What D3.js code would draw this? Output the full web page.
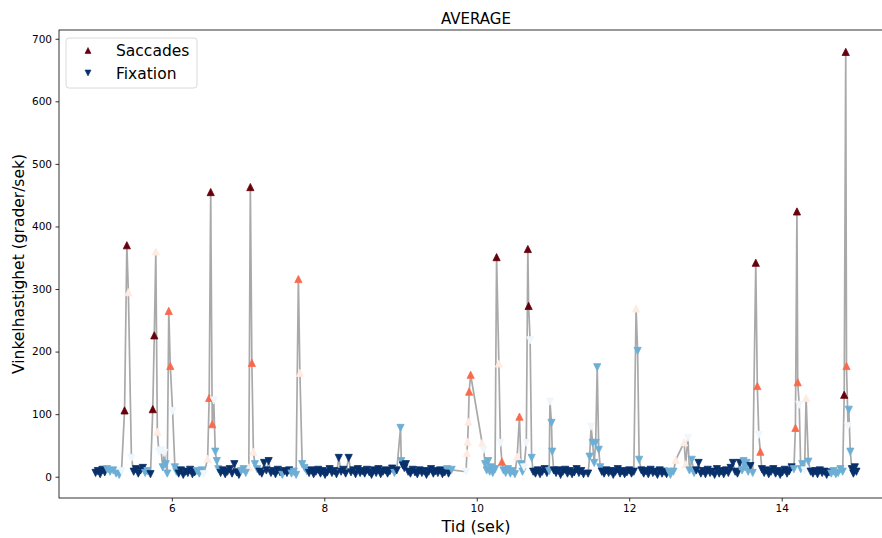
<!DOCTYPE html>
<html>
<head>
<meta charset="utf-8">
<script src="https://cdn.jsdelivr.net/npm/d3@7/dist/d3.min.js"></script>
<style>
  html, body { margin: 0; padding: 0; background: #fff; }
  svg { display: block; font-family: "DejaVu Sans", sans-serif; }
</style>
</head>
<body>
<svg id="chart" width="882" height="538"></svg>
<script>
// Saccade samples: time (s), angular speed (deg/s), colour tone (0 light, 1 mid, 2 dark)
const sacTime  = [5.38, 5.41, 5.43, 5.75, 5.77, 5.79, 5.81, 5.96, 5.98,
                  6.47, 6.49, 6.51, 6.53, 7.01, 7.03, 7.05, 7.07, 7.66, 7.68,
                  9.87, 9.88, 9.89, 9.90, 9.92, 10.07, 10.26, 10.29, 10.33,
                  10.53, 10.56, 10.67, 10.68, 12.09, 12.61, 12.72, 12.74,
                  13.66, 13.68, 13.72, 14.18, 14.20, 14.21, 14.32, 14.82, 14.84, 14.85];
const sacSpeed = [106, 370, 295, 108, 226, 360, 72, 265, 177,
                  29, 126, 455, 84, 15, 463, 182, 40, 316, 166,
                  38, 56, 88, 136, 163, 54, 351, 181, 24,
                  32, 96, 364, 273, 269, 27, 55, 20,
                  342, 145, 40, 78, 424, 151, 126, 131, 679, 177];
const sacTone  = [2, 2, 0, 2, 2, 0, 0, 1, 1,
                  0, 1, 2, 1, 0, 2, 1, 0, 1, 0,
                  0, 0, 0, 1, 1, 0, 2, 0, 1,
                  0, 1, 2, 2, 0, 0, 0, 0,
                  2, 1, 1, 1, 2, 1, 0, 2, 2, 1];

// Fixation samples: time (s), angular speed (deg/s), colour tone
const fixTime = [
  5.00, 5.03, 5.06, 5.09, 5.12, 5.15, 5.19, 5.23, 5.27, 5.31, 5.34, 5.47,
  5.50, 5.53, 5.56, 5.59, 5.62, 5.65, 5.68, 5.72,
  5.83, 5.86, 5.88, 5.90, 5.92, 5.94, 6.01, 6.04, 6.06,
  6.09, 6.12, 6.15, 6.18, 6.21, 6.24, 6.27, 6.30, 6.33, 6.36, 6.39, 6.42,
  6.55, 6.57, 6.59, 6.61,
  6.64, 6.67, 6.70, 6.73, 6.76, 6.79, 6.82, 6.85, 6.88, 6.91, 6.94, 6.97,
  7.09, 7.12, 7.15, 7.18, 7.21, 7.24, 7.27, 7.30, 7.33, 7.36, 7.39, 7.42,
  7.45, 7.48, 7.51, 7.54, 7.57, 7.60, 7.63, 7.71, 7.74, 7.77,
  7.80, 7.83, 7.86, 7.89, 7.92, 7.95, 7.98, 8.01, 8.04, 8.07, 8.10, 8.13,
  8.16, 8.19, 8.22, 8.25, 8.28, 8.32, 8.35, 8.38, 8.41, 8.44, 8.47, 8.50,
  8.53, 8.56, 8.59, 8.62, 8.65, 8.68, 8.71, 8.74, 8.77, 8.80, 8.83, 8.86,
  8.89, 8.92, 8.95, 9.00, 9.01, 9.03, 9.05, 9.07,
  9.10, 9.13, 9.16, 9.19, 9.22, 9.25, 9.28, 9.31, 9.34, 9.37, 9.40, 9.43,
  9.46, 9.49, 9.52, 9.55, 9.58, 9.61, 9.63, 9.67, 9.86,
  10.09, 10.11, 10.13, 10.15, 10.17, 10.19, 10.21, 10.24,
  10.31, 10.35, 10.38, 10.41, 10.44, 10.47, 10.50,
  10.58, 10.60, 10.62, 10.65, 10.70, 10.72, 10.74,
  10.77, 10.80, 10.83, 10.86, 10.89, 10.92, 10.95, 10.96, 10.98, 10.99, 11.01,
  11.04, 11.07, 11.10, 11.13, 11.16, 11.19, 11.22, 11.25, 11.28, 11.31, 11.34, 11.37, 11.40,
  11.46, 11.48, 11.50, 11.52, 11.54, 11.56, 11.58, 11.60, 11.62, 11.64,
  11.67, 11.70, 11.73, 11.76, 11.79, 11.82, 11.85, 11.88, 11.91, 11.94, 11.97, 12.00, 12.03, 12.06,
  12.11, 12.13, 12.16,
  12.19, 12.22, 12.25, 12.28, 12.31, 12.34, 12.37, 12.40, 12.43, 12.46, 12.49, 12.52, 12.54, 12.58,
  12.77, 12.79, 12.82, 12.85,
  12.88, 12.91, 12.94, 12.97, 13.00, 13.03, 13.06, 13.09, 13.12, 13.15, 13.18, 13.21,
  13.24, 13.27, 13.30, 13.33, 13.36, 13.39, 13.42, 13.45,
  13.48, 13.50, 13.52, 13.54, 13.56, 13.59, 13.62,
  13.70, 13.74,
  13.77, 13.80, 13.83, 13.86, 13.89, 13.92, 13.95, 13.98, 14.01, 14.04, 14.07, 14.10, 14.13, 14.16,
  14.23, 14.25, 14.27, 14.30, 14.35, 14.38,
  14.41, 14.44, 14.47, 14.50, 14.53, 14.56, 14.59, 14.62,
  14.65, 14.68, 14.71, 14.74, 14.77, 14.80,
  14.87, 14.88, 14.90, 14.92, 14.94, 14.96, 14.98
];
const fixSpeed = [
  6, 9, 4, 11, 7, 12, 8, 10, 5, 3, 9, 30,
  8, 12, 5, 10, 14, 6, 9, 4,
  40, 42, 15, 38, 20, 5, 105, 15, 8,
  5, 10, 3, 8, 6, 11, 4, 7, 9, 5, 10, 4,
  122, 40, 25, 12,
  6, 10, 4, 8, 12, 5, 20, 7, 3, 9, 12, 6,
  20, 12, 8, 5, 22, 10, 25, 6, 9, 4, 11, 7,
  3, 9, 6, 10, 5, 8, 3, 20, 14, 9,
  6, 10, 4, 8, 11, 5, 9, 3, 7, 12, 6, 9,
  4, 30, 8, 11, 5, 30, 7, 10, 4, 12, 6, 9,
  5, 11, 7, 3, 10, 6, 12, 4, 8, 10, 5, 9,
  13, 6, 10, 78, 25, 18, 14, 20,
  8, 5, 11, 7, 4, 10, 6, 9, 3, 8, 12, 5,
  9, 6, 10, 4, 7, 12, 5, 11, 8,
  43, 20, 10, 25, 8, 15, 6, 12,
  54, 10, 6, 12, 5, 9, 4,
  20, 8, 15, 54, 218, 30, 8,
  5, 10, 4, 8, 12, 6, 9, 120, 86, 40, 10,
  6, 10, 3, 8, 11, 5, 9, 4, 7, 12, 6, 9, 4,
  5, 32, 80, 54, 22, 54, 175, 43, 15, 8,
  5, 10, 6, 9, 3, 8, 12, 5, 9, 4, 7, 10, 5, 8,
  201, 27, 10,
  5, 9, 4, 11, 6, 8, 3, 10, 5, 8, 4, 8, 3, 8,
  62, 10, 27, 6,
  10, 22, 5, 9, 4, 11, 6, 8, 3, 12, 5, 9,
  4, 10, 6, 14, 22, 8, 5, 22,
  10, 25, 15, 22, 8, 17, 6,
  67, 12,
  6, 10, 4, 8, 12, 5, 9, 3, 7, 11, 5, 9, 15, 12,
  115, 12, 20, 10, 24, 8,
  5, 9, 4, 10, 6, 8, 3, 7,
  5, 9, 4, 6, 12, 8,
  81, 107, 40, 12, 5, 15, 8
];
const fixTone = [
  2, 2, 2, 2, 2, 1, 1, 1, 1, 1, 0, 0,
  2, 2, 2, 2, 2, 1, 1, 2,
  0, 0, 1, 0, 1, 1, 0, 1, 1,
  2, 2, 2, 2, 2, 2, 2, 2, 1, 1, 1, 0,
  0, 1, 1, 1,
  2, 2, 2, 2, 2, 2, 2, 2, 2, 1, 1, 1,
  1, 1, 2, 2, 2, 2, 2, 2, 2, 2, 2, 2,
  1, 2, 2, 2, 1, 1, 1, 1, 1, 1,
  2, 2, 2, 2, 2, 2, 2, 2, 2, 2, 2, 2,
  2, 2, 2, 2, 2, 2, 2, 2, 2, 2, 2, 2,
  2, 2, 2, 2, 2, 2, 2, 2, 2, 2, 2, 2,
  2, 1, 2, 1, 1, 2, 2, 2,
  2, 2, 2, 2, 2, 2, 2, 2, 2, 2, 2, 2,
  2, 2, 2, 2, 2, 1, 2, 1, 0,
  0, 1, 1, 1, 1, 1, 1, 1,
  0, 1, 1, 1, 1, 1, 1,
  1, 1, 0, 0, 0, 1, 2,
  2, 2, 2, 2, 2, 2, 1, 0, 1, 1, 2,
  2, 2, 2, 2, 2, 2, 2, 2, 2, 2, 2, 2, 2,
  2, 1, 0, 1, 1, 1, 1, 1, 1, 2,
  2, 2, 2, 2, 2, 2, 2, 2, 2, 2, 2, 2, 2, 2,
  1, 1, 2,
  2, 2, 2, 2, 2, 2, 2, 2, 2, 2, 2, 1, 1, 1,
  0, 1, 1, 1,
  2, 2, 2, 2, 2, 2, 2, 2, 2, 2, 2, 2,
  2, 2, 2, 2, 2, 2, 2, 2,
  1, 1, 1, 1, 1, 2, 1,
  0, 2,
  2, 2, 2, 2, 2, 2, 2, 2, 2, 2, 2, 2, 2, 1,
  0, 1, 1, 0, 1, 2,
  2, 2, 2, 2, 2, 2, 2, 2,
  1, 1, 1, 1, 1, 1,
  0, 1, 1, 2, 2, 2, 2
];

const xTicks = [6, 8, 10, 12, 14];
const yTicks = [0, 100, 200, 300, 400, 500, 600, 700];
const titleText = "AVERAGE";
const xLabel = "Tid (sek)";
const yLabel = "Vinkelhastighet (grader/sek)";
const legendLabels = ["Saccades", "Fixation"];

// Tone -> colour along the Reds / Blues ramps
const redTone  = [d3.interpolateReds(0.06), d3.interpolateReds(0.5), d3.interpolateReds(1)];
const blueTone = [d3.interpolateBlues(0.04), d3.interpolateBlues(0.5), d3.interpolateBlues(1)];

const saccades = sacTime.map((t, i) => ({ t, v: sacSpeed[i], tone: sacTone[i], kind: "S" }));
const fixations = fixTime.map((t, i) => ({ t, v: fixSpeed[i], tone: fixTone[i], kind: "F" }));
const trace = saccades.concat(fixations).sort((a, b) => a.t - b.t);

const svg = d3.select("#chart");
const plot = { left: 59, right: 893, top: 30, bottom: 498 };

const x = d3.scaleLinear().domain([4.52, 15.46]).range([plot.left, plot.right]);
const y = d3.scaleLinear().domain([-34, 714]).range([plot.bottom, plot.top]);

svg.append("defs").append("clipPath").attr("id", "plotClip")
  .append("rect")
  .attr("x", plot.left).attr("y", plot.top)
  .attr("width", plot.right - plot.left).attr("height", plot.bottom - plot.top);

const body = svg.append("g").attr("clip-path", "url(#plotClip)");

// Connecting trace through every sample in time order
body.append("path")
  .datum(trace)
  .attr("fill", "none")
  .attr("stroke", "#8c8c8c")
  .attr("stroke-opacity", 0.75)
  .attr("stroke-width", 1.7)
  .attr("stroke-linejoin", "round")
  .attr("d", d3.line().x(d => x(d.t)).y(d => y(d.v)));

const S = 7.2;
const upTri = s => `M0,${-s / 2}L${s / 2},${s / 2}L${-s / 2},${s / 2}Z`;
const downTri = s => `M0,${s / 2}L${s / 2},${-s / 2}L${-s / 2},${-s / 2}Z`;

body.append("g").selectAll("path")
  .data(saccades)
  .join("path")
  .attr("d", upTri(S))
  .attr("transform", d => `translate(${x(d.t)},${y(d.v)})`)
  .attr("fill", d => redTone[d.tone])
  .attr("stroke", d => redTone[d.tone])
  .attr("stroke-width", 0.8);

body.append("g").selectAll("path")
  .data(fixations)
  .join("path")
  .attr("d", downTri(S))
  .attr("transform", d => `translate(${x(d.t)},${y(d.v)})`)
  .attr("fill", d => blueTone[d.tone])
  .attr("stroke", d => blueTone[d.tone])
  .attr("stroke-width", 0.8);

// Axes
const xAxis = svg.append("g")
  .attr("transform", `translate(0,${plot.bottom})`)
  .call(d3.axisBottom(x).tickValues(xTicks).tickFormat(d3.format("d")).tickSizeOuter(0).tickSize(3.5).tickPadding(3.5));
const yAxis = svg.append("g")
  .attr("transform", `translate(${plot.left},0)`)
  .call(d3.axisLeft(y).tickValues(yTicks).tickFormat(d3.format("d")).tickSizeOuter(0).tickSize(3.5).tickPadding(3.5));
[xAxis, yAxis].forEach(g => {
  g.select(".domain").remove();
  g.selectAll("line").attr("stroke", "#000").attr("stroke-width", 0.8);
  g.selectAll("text").attr("font-family", "DejaVu Sans").attr("font-size", 10.5).attr("fill", "#000");
});

// Frame
svg.append("rect")
  .attr("x", plot.left).attr("y", plot.top)
  .attr("width", plot.right - plot.left).attr("height", plot.bottom - plot.top)
  .attr("fill", "none").attr("stroke", "#000").attr("stroke-width", 0.8);

// Titles
const midX = (plot.left + plot.right) / 2;
svg.append("text").attr("x", midX).attr("y", 24)
  .attr("text-anchor", "middle").attr("font-size", 15).text(titleText);
svg.append("text").attr("x", midX).attr("y", 532)
  .attr("text-anchor", "middle").attr("font-size", 16).text(xLabel);
svg.append("text")
  .attr("transform", `translate(24,${(plot.top + plot.bottom) / 2}) rotate(-90)`)
  .attr("text-anchor", "middle").attr("font-size", 15.5).text(yLabel);

// Legend
const lg = svg.append("g").attr("transform", "translate(66,38)");
lg.append("rect").attr("width", 131).attr("height", 50).attr("rx", 3)
  .attr("fill", "#fff").attr("fill-opacity", 0.8)
  .attr("stroke", "#d0d0d0").attr("stroke-width", 0.8);
lg.append("path").attr("d", upTri(6)).attr("transform", "translate(22,12.5)")
  .attr("fill", redTone[2]).attr("stroke", redTone[2]).attr("stroke-width", 0.6);
lg.append("path").attr("d", downTri(6)).attr("transform", "translate(22,35)")
  .attr("fill", blueTone[2]).attr("stroke", blueTone[2]).attr("stroke-width", 0.6);
lg.selectAll("text.lbl").data(legendLabels).join("text")
  .attr("class", "lbl")
  .attr("x", 50).attr("y", (d, i) => 18 + i * 23)
  .attr("font-size", 15.5).text(d => d);
</script>
</body>
</html>
